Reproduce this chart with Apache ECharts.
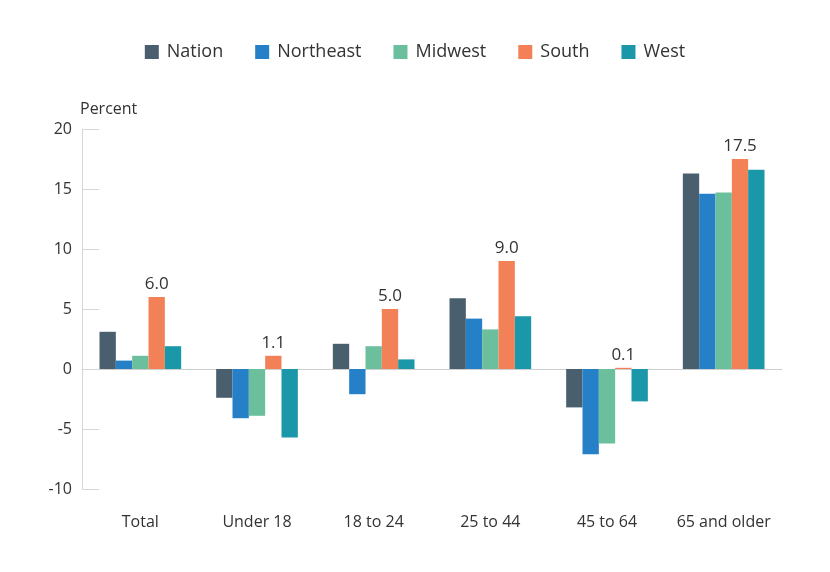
<!DOCTYPE html>
<html>
<head>
<meta charset="utf-8">
<script src="https://cdn.jsdelivr.net/npm/echarts@6/dist/echarts.min.js"></script>
<style>
  html, body { margin: 0; padding: 0; background: #fff; }
  #chart { width: 830px; height: 572px; }
</style>
</head>
<body>
<div id="chart"></div>
<script>
// Data
const categories = ['Total', 'Under 18', '18 to 24', '25 to 44', '45 to 64', '65 and older'];
const nation = [3.1, -2.4, 2.1, 5.9, -3.2, 16.3];
const northeast = [0.7, -4.1, -2.1, 4.2, -7.1, 14.6];
const midwest = [1.1, -3.9, 1.9, 3.3, -6.2, 14.7];
const south = [6.0, 1.1, 5.0, 9.0, 0.1, 17.5];
const west = [1.9, -5.7, 0.8, 4.4, -2.7, 16.6];

const FONT = '"Open Sans", Lato, sans-serif';
const TEXT = '#333';

const makeSeries = (name, data, color, labelled) => ({
  name,
  type: 'bar',
  data,
  barGap: 0,
  barCategoryGap: '30%',
  itemStyle: { color },
  label: labelled ? {
    show: true,
    position: 'top',
    distance: 4,
    color: TEXT,
    fontFamily: FONT,
    fontSize: 17,
    formatter: (p) => p.value.toFixed(1)
  } : { show: false }
});

const chart = echarts.init(document.getElementById('chart'));
chart.setOption({
  animation: false,
  textStyle: { fontFamily: FONT },
  legend: {
    top: 38,
    left: 'center',
    itemWidth: 14,
    itemHeight: 14,
    itemGap: 32,
    icon: 'rect',
    textStyle: { color: TEXT, fontSize: 18, fontFamily: FONT, padding: [0, 0, 0, 3] },
    data: ['Nation', 'Northeast', 'Midwest', 'South', 'West']
  },
  grid: { left: 82, right: 48, top: 129, bottom: 83 },
  xAxis: [
    {
      type: 'category',
      data: categories,
      position: 'bottom',
      axisLine: { show: false, onZero: false },
      axisTick: { show: false },
      axisLabel: { color: TEXT, fontSize: 16, fontFamily: FONT, margin: 25, interval: 0 }
    },
    {
      type: 'category',
      data: categories,
      axisLine: { show: true, onZero: true, lineStyle: { color: '#cfcfcf', width: 1 } },
      axisTick: { show: false },
      axisLabel: { show: false }
    }
  ],
  yAxis: {
    type: 'value',
    min: -10,
    max: 20,
    interval: 5,
    name: 'Percent',
    nameLocation: 'end',
    nameGap: 12,
    nameTextStyle: { color: TEXT, fontSize: 16, fontFamily: FONT, align: 'left', padding: [0, 0, 0, -2] },
    axisLine: { show: true, lineStyle: { color: '#d6d6d6' } },
    axisTick: { show: true, inside: true, length: 17, lineStyle: { color: '#d6d6d6' } },
    axisLabel: { color: TEXT, fontSize: 16, fontFamily: FONT, margin: 10 },
    splitLine: { show: false }
  },
  series: [
    makeSeries('Nation', nation, '#4a5f6d', false),
    makeSeries('Northeast', northeast, '#2580c8', false),
    makeSeries('Midwest', midwest, '#6cbf9c', false),
    makeSeries('South', south, '#f28157', true),
    makeSeries('West', west, '#1a97a8', false)
  ]
});
</script>
</body>
</html>
